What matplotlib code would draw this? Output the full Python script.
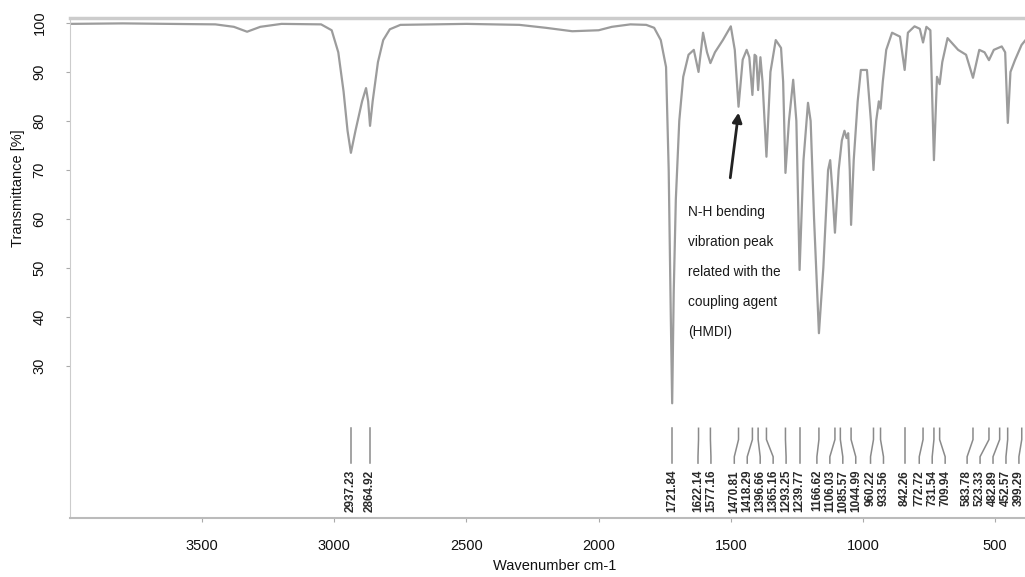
import numpy as np
import matplotlib
matplotlib.use("Agg")
import matplotlib.pyplot as plt

plt.rcParams["font.family"] = ["Liberation Sans", "DejaVu Sans"]

# traced FTIR spectrum: wavenumber (cm-1) and transmittance (%)
wavenumber = [
    4000, 3800, 3450, 3380, 3330, 3280, 3200, 3050, 3010, 2985, 2965, 2950,
    2937.23, 2920, 2895, 2880, 2872, 2864.92, 2855, 2835, 2815, 2790, 2750,
    2500, 2300, 2200, 2100, 2000, 1950, 1880, 1820, 1790, 1765, 1745, 1735,
    1727, 1721.84, 1716, 1708, 1695, 1680, 1660, 1640, 1622.14, 1605, 1590,
    1577.16, 1560, 1530, 1500, 1485, 1470.81, 1455, 1440, 1430, 1418.29,
    1410, 1404, 1396.66, 1388, 1380, 1365.16, 1350, 1330, 1310, 1302,
    1293.25, 1280, 1264, 1252, 1239.77, 1225, 1208, 1198, 1185, 1166.62,
    1150, 1132, 1124, 1116, 1106.03, 1092, 1080, 1070, 1062, 1056, 1050,
    1044.99, 1035, 1020, 1008, 985, 970, 960.22, 950, 940, 933.56, 925,
    912, 890, 860, 842.26, 830, 805, 785, 772.72, 760, 745, 731.54, 720,
    709.94, 700, 680, 640, 610, 583.78, 560, 540, 523.33, 505, 475, 462,
    452, 442, 425, 400, 385,
]
transmittance = [
    99.8, 99.9, 99.7, 99.2, 98.2, 99.2, 99.8, 99.7, 98.5, 94.0, 86.0, 78.0,
    73.5, 78.0, 84.0, 86.7, 84.0, 79.0, 84.0, 92.0, 96.5, 98.7, 99.6,
    99.8, 99.6, 99.0, 98.3, 98.5, 99.2, 99.7, 99.6, 99.0, 96.5, 91.0, 70.0,
    40.0, 22.4, 45.0, 64.0, 80.0, 89.0, 93.5, 94.5, 90.0, 98.0, 94.0,
    91.8, 94.0, 96.5, 99.3, 94.5, 82.9, 92.5, 94.5, 93.0, 85.3,
    93.5, 93.2, 86.3, 93.0, 88.0, 72.7, 90.0, 96.5, 94.9, 88.0,
    69.4, 80.0, 88.4, 80.0, 49.6, 72.0, 83.7, 80.0, 60.0, 36.7,
    50.0, 70.0, 72.0, 66.0, 57.2, 70.0, 76.0, 78.0, 76.5, 77.5, 70.0,
    58.8, 72.0, 84.0, 90.4, 90.4, 80.0, 70.0, 80.0, 84.0, 82.5, 88.0,
    94.5, 98.0, 97.2, 90.4, 98.0, 99.3, 98.8, 96.0, 99.2, 98.5, 72.0, 89.0,
    87.5, 92.0, 96.9, 94.5, 93.5, 88.8, 94.5, 94.0, 92.4, 94.5, 95.2, 94.0,
    79.6, 90.0, 92.4, 95.5, 96.5,
]

# picked peaks
peaks = [
    2937.23, 2864.92, 1721.84, 1622.14, 1577.16, 1470.81, 1418.29, 1396.66,
    1365.16, 1293.25, 1239.77, 1166.62, 1106.03, 1085.57, 1044.99, 960.22,
    933.56, 842.26, 772.72, 731.54, 709.94, 583.78, 523.33, 482.89, 452.57,
    399.29,
]
peak_labels = ["%.2f" % p for p in peaks]

nh_peak = 1470.81
nh_text = "N-H bending\nvibration peak\nrelated with the\ncoupling agent\n(HMDI)"

xticks = [3500, 3000, 2500, 2000, 1500, 1000, 500]
yticks = [30, 40, 50, 60, 70, 80, 90, 100]


def spread(vals, gap, right_limit, n_iter=400):
    # push label positions apart so neighbours keep at least `gap`
    p = np.array(sorted(vals, reverse=True), dtype=float)
    for _ in range(n_iter):
        moved = False
        for i in range(len(p) - 1):
            d = p[i] - p[i + 1]
            if d < gap:
                s = (gap - d) / 2
                p[i] += s
                p[i + 1] -= s
                moved = True
        if p[-1] < right_limit:
            p[-1] = right_limit
            moved = True
        if not moved:
            break
    return p


fig = plt.figure(figsize=(10.25, 5.77), dpi=100)
ax = fig.add_axes([70 / 1025, 1 - 518 / 577, 955 / 1025, 500 / 577])

ax.plot(wavenumber, transmittance, color="#9c9c9c", lw=1.6, solid_joinstyle="round")
ax.set_xlim(4000, 387)
ax.set_ylim(-1, 101)

# peak markers with leader lines
label_pos = spread(peaks, 49, 410)
for p, lp, txt in zip(sorted(peaks, reverse=True), label_pos, peak_labels):
    ax.plot([p, p, lp, lp], [17.3, 15.0, 11.5, 10.2], color="#8a8a8a", lw=1.1)
    ax.text(lp, 8.8, txt, rotation=90, ha="center", va="top", fontsize=8.5,
            fontweight="bold", color="#2a2a2a")

# annotation for the N-H band
nh_T = transmittance[wavenumber.index(nh_peak)]
ax.annotate("", xy=(nh_peak, nh_T - 1.2), xytext=(1502, 68.4),
            arrowprops=dict(arrowstyle="-|>", color="#222222", lw=2,
                            mutation_scale=14, shrinkA=0, shrinkB=0))
ax.text(1661, 62.8, nh_text, ha="left", va="top", fontsize=9.8,
        color="#1a1a1a", linespacing=2.45)

ax.set_xticks(xticks)
ax.set_xticklabels([str(t) for t in xticks], fontsize=10.5, color="#111111")
ax.set_yticks(yticks)
ax.set_yticklabels([str(t) for t in yticks], fontsize=10.5, color="#111111",
                   rotation=90, va="center")
ax.tick_params(axis="x", length=3, pad=12, color="#aaaaaa")
ax.tick_params(axis="y", length=3, pad=14, color="#aaaaaa")

ax.set_xlabel("Wavenumber cm-1", fontsize=10.5, color="#111111", va="center")
ax.xaxis.set_label_coords(0.508, -0.096)
ax.set_ylabel("Transmittance [%]", fontsize=10.5, color="#111111", va="center")
ax.yaxis.set_label_coords(-0.054, 0.66)

ax.spines["right"].set_visible(False)
ax.spines["top"].set_color("#cccccc")
ax.spines["top"].set_linewidth(2.5)
ax.spines["bottom"].set_color("#bbbbbb")
ax.spines["bottom"].set_linewidth(1.5)
ax.spines["left"].set_color("#cccccc")

fig.savefig("out.png", dpi=100)
